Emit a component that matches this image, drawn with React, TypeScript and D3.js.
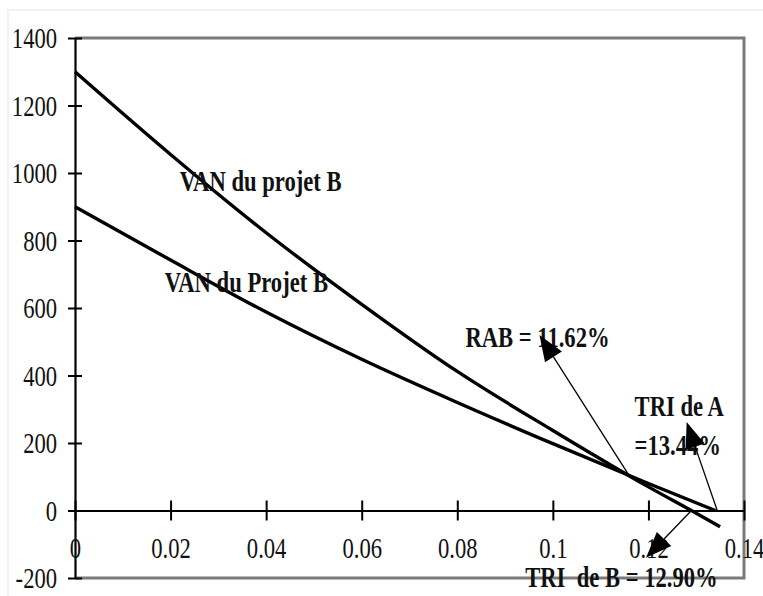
import React, { useEffect, useRef } from 'react';
import * as d3 from 'd3';

// axis ticks
const rateTicks = [0, 0.02, 0.04, 0.06, 0.08, 0.1, 0.12, 0.14];
const vanTicks = [-200, 0, 200, 400, 600, 800, 1000, 1200, 1400];

// upper curve (crosses zero at 12.90%)
const ratesUpper = [0, 0.02, 0.04, 0.06, 0.08, 0.1, 0.12, 0.13, 0.135];
const vanUpper = [1300, 1055, 823, 611, 412, 237, 70, -8, -48];

// lower curve (crosses zero at 13.44%)
const ratesLower = [0, 0.02, 0.04, 0.06, 0.08, 0.1, 0.12, 0.134];
const vanLower = [900, 742, 588, 448, 320, 198, 80, 0];

// text labels, anchored in data space (left edge, baseline)
const labelTexts = ['VAN du projet B', 'VAN du Projet B', 'RAB = 11.62%', 'TRI de A', '=13.44%', 'TRI  de B = 12.90%'];
const labelRates = [0.0219, 0.0188, 0.0817, 0.1171, 0.1171, 0.0942];
const labelVans = [948, 646, 483, 281, 163, -228];

// arrows: from point on the curves to the label
const arrowFromRates = [0.1162, 0.1344, 0.129];
const arrowFromVans = [98, 0, 0];
const arrowToRates = [0.0972, 0.128, 0.1195];
const arrowToVans = [520, 262, -140];

const W = 763;
const H = 596;

const App: React.FC = () => {
  const svgRef = useRef<SVGSVGElement>(null);

  useEffect(() => {
    if (!svgRef.current) return;
    const svg = d3.select(svgRef.current);
    svg.selectAll('*').remove();

    const left = 75, right = 744, top = 38, bottom = 578;
    const x = d3.scaleLinear().domain([0, 0.14]).range([left, right]);
    const y = d3.scaleLinear().domain([-200, 1400]).range([bottom, top]);
    const font = '"Liberation Serif", "Times New Roman", serif';

    svg.append('rect').attr('width', W).attr('height', H).attr('fill', '#fff');
    // faint outer frame
    svg.append('rect')
      .attr('x', 8).attr('y', 10).attr('width', W).attr('height', H)
      .attr('fill', 'none').attr('stroke', '#e6e6e6').attr('stroke-width', 1);

    // gray plot border (top, right, bottom)
    svg.append('path')
      .attr('d', `M${left},${top}H${right}V${bottom}H${left}`)
      .attr('fill', 'none').attr('stroke', '#7a7a7a').attr('stroke-width', 3);

    // y axis
    const gy = svg.append('g')
      .attr('transform', `translate(${left},0)`)
      .call(d3.axisLeft(y).tickValues(vanTicks).tickSizeOuter(0).tickFormat(d => String(d)));
    gy.select('.domain').attr('stroke', '#000').attr('stroke-width', 2.2);
    gy.selectAll('.tick line').attr('x1', 7).attr('x2', -7).attr('stroke', '#000').attr('stroke-width', 2);
    gy.selectAll('.tick text')
      .attr('x', -23).attr('dy', '0.34em')
      .attr('transform', 'scale(0.78,1)')
      .attr('font-family', font).attr('font-size', 29).attr('fill', '#111');

    // x axis at VAN = 0
    const gx = svg.append('g')
      .attr('transform', `translate(0,${y(0)})`)
      .call(d3.axisBottom(x).tickValues(rateTicks).tickSizeOuter(0)
        .tickFormat(d => String(+(+d).toFixed(2))));
    gx.select('.domain').attr('stroke', '#000').attr('stroke-width', 2);
    gx.selectAll('.tick line').attr('y1', -10).attr('y2', 10).attr('stroke', '#000').attr('stroke-width', 2);
    gx.selectAll('.tick text')
      .attr('y', 48).attr('dy', 0)
      .attr('transform', 'scale(0.78,1)')
      .attr('text-anchor', 'middle')
      .attr('font-family', font).attr('font-size', 29).attr('fill', '#111');

    // VAN curves
    const line = d3.line<[number, number]>()
      .x(d => x(d[0]))
      .y(d => y(d[1]))
      .curve(d3.curveMonotoneX);

    const upper = ratesUpper.map((r, i) => [r, vanUpper[i]] as [number, number]);
    const lower = ratesLower.map((r, i) => [r, vanLower[i]] as [number, number]);
    [upper, lower].forEach(pts => {
      svg.append('path')
        .datum(pts)
        .attr('fill', 'none')
        .attr('stroke', '#000')
        .attr('stroke-width', 3.4)
        .attr('d', line);
    });

    // labels
    labelTexts.forEach((t, i) => {
      svg.append('g')
        .attr('transform', `translate(${x(labelRates[i])},${y(labelVans[i])}) scale(0.78,1)`)
        .append('text')
        .attr('font-family', font)
        .attr('font-weight', 'bold')
        .attr('font-size', 29)
        .attr('fill', '#111')
        .style('white-space', 'pre')
        .text(t);
    });

    // arrows
    arrowFromRates.forEach((r, i) => {
      const x1 = x(r), y1 = y(arrowFromVans[i]);
      const x2 = x(arrowToRates[i]), y2 = y(arrowToVans[i]);
      const ang = Math.atan2(y2 - y1, x2 - x1);
      const len = 26, half = 10;
      const bx = x2 - len * Math.cos(ang), by = y2 - len * Math.sin(ang);
      svg.append('line')
        .attr('x1', x1).attr('y1', y1).attr('x2', bx).attr('y2', by)
        .attr('stroke', '#000').attr('stroke-width', 1.3);
      const px = -Math.sin(ang) * half, py = Math.cos(ang) * half;
      svg.append('path')
        .attr('d', `M${x2},${y2}L${bx + px},${by + py}L${bx - px},${by - py}Z`)
        .attr('fill', '#000');
    });
  }, []);

  return (
    <svg
      ref={svgRef}
      width={W}
      height={H}
      style={{ position: 'absolute', left: 0, top: 0, display: 'block' }}
    />
  );
};

export default App;
